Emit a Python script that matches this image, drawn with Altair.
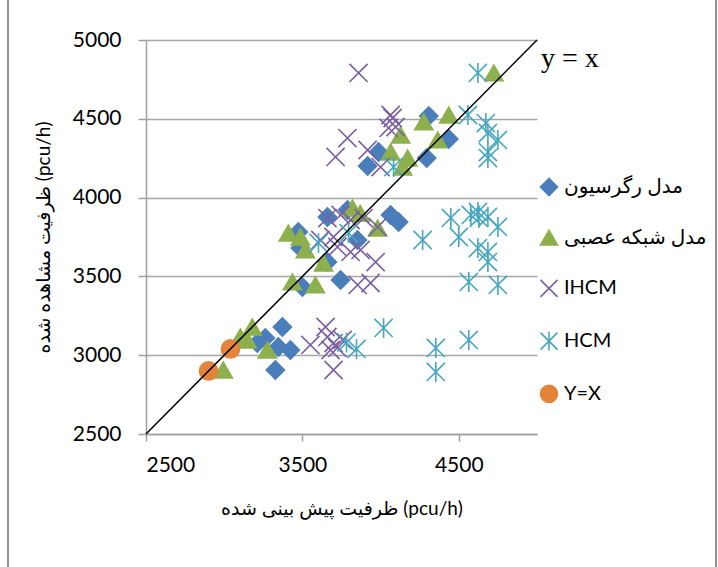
import altair as alt
import pandas as pd

# Series names (legend order)
REG = "مدل رگرسیون"
NN = "مدل شبکه عصبی"
IHCM = "IHCM"
HCM = "HCM"
YX = "Y=X"

# Predicted capacity (x) and observed capacity (y), pcu/h
reg_x = [4308, 4436, 4295, 3987, 3917, 4064, 4115, 3788, 3660, 3474, 3487, 3660,
         3852, 3744, 3500, 3372, 3263, 3212, 3346, 3423, 3327]
reg_y = [4518, 4372, 4251, 4289, 4200, 3890, 3845, 3921, 3877, 3782, 3680, 3591,
         3731, 3477, 3433, 3179, 3109, 3077, 3052, 3033, 2906]

nn_x = [4724, 4436, 4276, 4365, 4128, 4064, 4173, 4141, 3820, 3870, 3981, 3410,
        3487, 3519, 3635, 3436, 3583, 3179, 3103, 3147, 3276, 2994]
nn_y = [4791, 4524, 4480, 4366, 4397, 4289, 4251, 4194, 3934, 3900, 3807, 3775,
        3750, 3668, 3585, 3465, 3446, 3179, 3116, 3096, 3033, 2906]

ihcm_x = [3859, 4064, 4077, 4096, 4051, 3788, 3712, 3917, 4000,
          3660, 3744, 3808, 3891, 3981, 3615, 3699, 3724, 3808, 3872, 3968, 3853, 3936,
          3551, 3648, 3660, 3699, 3680, 3724, 3699, 3757]
ihcm_y = [4791, 4524, 4505, 4448, 4442, 4378, 4258, 4302, 4194,
          3870, 3890, 3858, 3870, 3814, 3731, 3750, 3687, 3655, 3668, 3591, 3446, 3458,
          3065, 3179, 3116, 3077, 3033, 3046, 2906, 3097]

hcm_x = [4622, 4558, 4673, 4686, 4750, 4686, 4686, 4083,
         4269, 4449, 4500, 4577, 4622, 4628, 4686, 4750, 4622, 4686, 4686, 4564, 4750,
         4564, 4353, 4353, 4019, 3782, 3846, 3603, 3795]
hcm_y = [4791, 4524, 4473, 4410, 4366, 4289, 4251, 4194,
         3731, 3871, 3750, 3890, 3909, 3871, 3877, 3814, 3680, 3655, 3591, 3465, 3446,
         3097, 3046, 2894, 3173, 3080, 3040, 3712, 3775]

yx_x = [2900, 3040]
yx_y = [2900, 3040]

series_order = [REG, NN, IHCM, HCM, YX]
colors = ["#4A7EBB", "#8DB04D", "#7B5FA0", "#47A6C1", "#E3843A"]
x_path = "M-1,-1L1,1M-1,1L1,-1"
star_path = "M-1,-1L1,1M-1,1L1,-1M0,-1.1L0,1.1"
shapes = ["diamond", "triangle-up", x_path, star_path, "circle"]

frames = []
for name, xs, ys in [(REG, reg_x, reg_y), (NN, nn_x, nn_y), (IHCM, ihcm_x, ihcm_y),
                     (HCM, hcm_x, hcm_y), (YX, yx_x, yx_y)]:
    frames.append(pd.DataFrame({"pred": xs, "obs": ys, "series": name}))
df = pd.concat(frames, ignore_index=True)

FONT = "Lato, DejaVu Sans"

xscale = alt.Scale(domain=[2500, 5000], nice=False, zero=False)
yscale = alt.Scale(domain=[2500, 5000], nice=False, zero=False)

xaxis = alt.Axis(
    title="ظرفیت پیش بینی شده (pcu/h)", values=[2500, 3500, 4500], grid=False, format="d",
    domainColor="#A0A0A0", domainWidth=1.5, tickColor="#A0A0A0", tickWidth=1.5,
    tickSize=7, labelFont=FONT, labelFontSize=21, labelColor="black", labelPadding=13,
    titleFont=FONT, titleFontSize=19, titleFontWeight="normal", titleColor="black",
    titlePadding=24,
)
yaxis = alt.Axis(
    title="ظرفیت مشاهده شده (pcu/h)", values=[2500, 3000, 3500, 4000, 4500, 5000],
    format="d", grid=True, gridColor="#A6A6A6", gridWidth=1.5,
    domainColor="#A0A0A0", domainWidth=1.5, tickColor="#A0A0A0", tickWidth=1.5,
    tickSize=8, labelFont=FONT, labelFontSize=21, labelColor="black", labelPadding=17,
    titleFont=FONT, titleFontSize=19, titleFontWeight="normal", titleColor="black",
    titlePadding=19,
)

legend = alt.Legend(
    title=None, orient="none", legendX=393, legendY=137, padding=0,
    labelFont=FONT, labelFontSize=20, labelColor="black", labelLimit=300,
    symbolSize=290, symbolStrokeWidth=1.6, labelOffset=5, rowPadding=27.7,
)

points = alt.Chart(df).mark_point(opacity=1, strokeWidth=1.6, size=330).encode(
    x=alt.X("pred:Q", scale=xscale, axis=xaxis),
    y=alt.Y("obs:Q", scale=yscale, axis=yaxis),
    fill=alt.Fill("series:N", scale=alt.Scale(domain=series_order, range=colors),
                  legend=legend),
    stroke=alt.Stroke("series:N", scale=alt.Scale(domain=series_order, range=colors),
                      legend=legend),
    shape=alt.Shape("series:N", scale=alt.Scale(domain=series_order, range=shapes),
                    legend=legend),
)

# y = x reference line across the full range
diag_df = pd.DataFrame({"pred": [2500, 5000], "obs": [2500, 5000]})
diag = alt.Chart(diag_df).mark_line(color="black", strokeWidth=1.5).encode(
    x=alt.X("pred:Q", scale=xscale),
    y=alt.Y("obs:Q", scale=yscale),
)

note_df = pd.DataFrame({"pred": [5000], "obs": [4880], "text": ["y = x"]})
note = alt.Chart(note_df).mark_text(
    align="left", baseline="middle", dx=4, font="Liberation Serif", fontSize=28,
    color="black",
).encode(
    x=alt.X("pred:Q", scale=xscale),
    y=alt.Y("obs:Q", scale=yscale),
    text="text:N",
)

# chart-area frame lines
frame_left = alt.Chart(diag_df).mark_rule(color="#8C8C8C", strokeWidth=1.5).encode(
    x=alt.value(-138), y=alt.value(-40), y2=alt.value(527))
frame_right = alt.Chart(diag_df).mark_rule(color="#8C8C8C", strokeWidth=1.5).encode(
    x=alt.value(570), y=alt.value(-40), y2=alt.value(527))

chart = alt.layer(frame_left, frame_right, points, diag, note).properties(
    width=391, height=394,
    autosize=alt.AutoSizeParams(type="none"),
    padding={"left": 146, "top": 40, "right": 181, "bottom": 133},
    background="white",
).configure_view(stroke=None)

chart.save("out.html", embed_options={"renderer": "svg", "actions": False})
